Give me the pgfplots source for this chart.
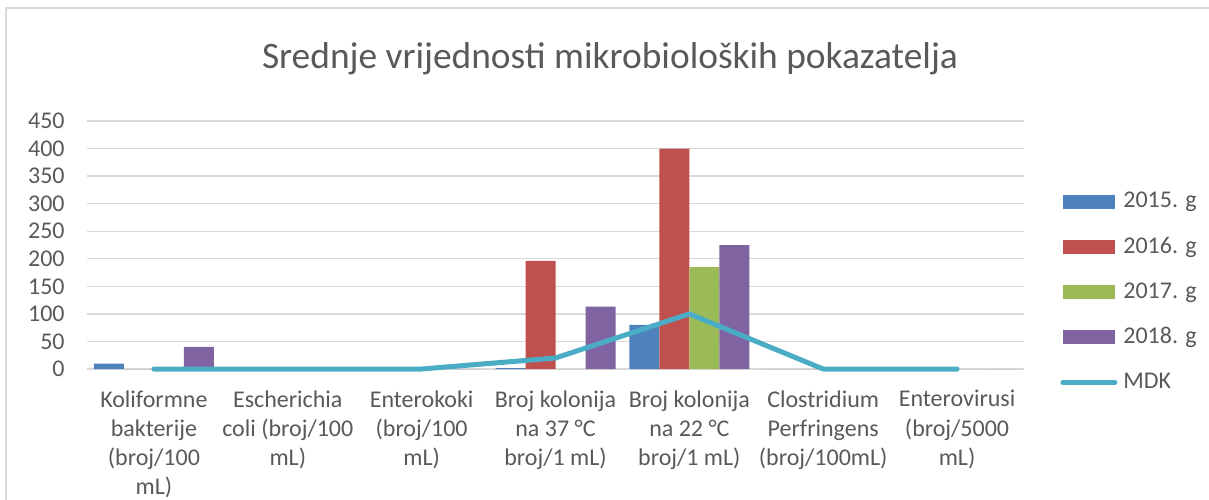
\documentclass[border=0pt]{standalone}
\usepackage{pgfplots}
\pgfplotsset{compat=1.18}
\usepackage{fontspec}
\setmainfont{Carlito}
\definecolor{c15}{HTML}{4F81BD}
\definecolor{c16}{HTML}{C0504D}
\definecolor{c17}{HTML}{9BBB59}
\definecolor{c18}{HTML}{8064A2}
\definecolor{cmdk}{HTML}{4BACC6}
\definecolor{gridc}{HTML}{D9D9D9}
\definecolor{textc}{HTML}{595959}
\begin{document}
\begin{tikzpicture}
\useasboundingbox (0,0) rectangle (604.5pt,-249.5pt);
\draw[color=gridc, line width=1pt] (3pt,-260pt) -- (3pt,-4pt) -- (610pt,-4pt);
\node[text=textc, font=\fontsize{18.7}{22}\selectfont, anchor=base, inner sep=0pt] at (305pt,-34pt) {Srednje vrijednosti mikrobioloških pokazatelja};
\begin{axis}[
 at={(43.5pt,-184.5pt)}, anchor=south west,
 scale only axis, width=468.5pt, height=124pt,
 xmin=-0.5, xmax=6.5, ymin=0, ymax=450,
 ytick={0,50,...,450},
 xtick={0,...,6},
 xticklabels={{Koliformne\\bakterije\\(broj/100\\mL)},
   {Escherichia\\coli (broj/100\\mL)},
   {Enterokoki\\(broj/100\\mL)},
   {Broj kolonija\\na 37 °C\\broj/1 mL)},
   {Broj kolonija\\na 22 °C\\broj/1 mL)},
   {Clostridium\\Perfringens\\(broj/100mL)},
   {Enterovirusi\\(broj/5000\\mL)}},
 xticklabel style={align=center, font=\fontsize{12}{14.6}\selectfont, text=textc, anchor=north, inner sep=0pt, yshift=-10.5pt},
 yticklabel style={font=\fontsize{12}{14}\selectfont, text=textc, anchor=east, inner sep=0pt, xshift=-11pt},
 /pgf/number format/assume math mode=true,
 ymajorgrids, grid style={gridc, line width=0.7pt},
 axis line style={draw=none},
 major tick length=0pt,
 clip=false,
 legend style={draw=none, fill=none, at={(1.0384,0.7202)}, anchor=north west, inner sep=0pt,
   font=\fontsize{12}{14}\selectfont, text=textc, row sep=11.6pt, column sep=3pt,
   nodes={inner sep=0pt, text height=8.5pt, text depth=2.5pt}},
 legend cell align=left,
]
\addplot[ybar, bar width=15pt, bar shift=-22.5pt, fill=c15, draw=none,
  legend image code/.code={\fill[c15] (0pt,-3.5pt) rectangle (26pt,3.5pt);}]
  coordinates {(0,10) (1,0) (2,0) (3,1.5) (4,80) (5,0) (6,0)};
\addplot[ybar, bar width=15pt, bar shift=-7.5pt, fill=c16, draw=none,
  legend image code/.code={\fill[c16] (0pt,-3.5pt) rectangle (26pt,3.5pt);}]
  coordinates {(0,0) (1,0) (2,0) (3,196) (4,400) (5,0) (6,0)};
\addplot[ybar, bar width=15pt, bar shift=7.5pt, fill=c17, draw=none,
  legend image code/.code={\fill[c17] (0pt,-3.5pt) rectangle (26pt,3.5pt);}]
  coordinates {(0,0) (1,0) (2,0) (3,0) (4,185) (5,0) (6,0)};
\addplot[ybar, bar width=15pt, bar shift=22.5pt, fill=c18, draw=none,
  legend image code/.code={\fill[c18] (0pt,-3.5pt) rectangle (26pt,3.5pt);}]
  coordinates {(0,40) (1,0) (2,0) (3,113) (4,225) (5,0) (6,0)};
\addplot[sharp plot, cmdk, line width=2.5pt, line cap=round, line join=round, mark=none,
  legend image code/.code={\draw[cmdk, line width=2.5pt, line cap=round] (0pt,0pt) -- (26pt,0pt);}]
  coordinates {(0,0) (1,0) (2,0) (3,20) (4,100) (5,0) (6,0)};
\legend{2015. g, 2016. g, 2017. g, 2018. g, MDK}
\end{axis}
\end{tikzpicture}
\end{document}
